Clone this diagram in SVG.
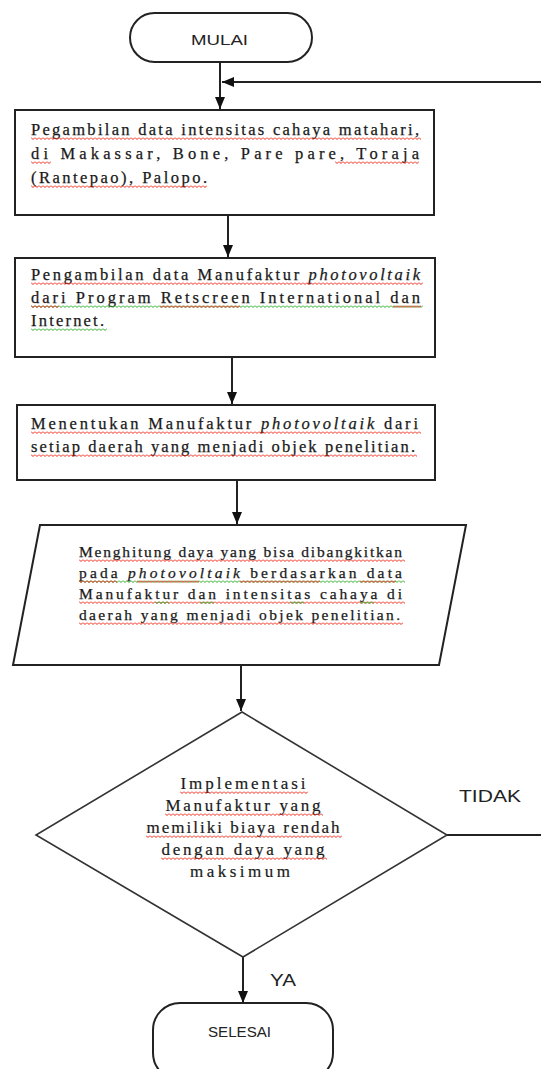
<svg xmlns="http://www.w3.org/2000/svg" width="541" height="1069" viewBox="0 0 541 1069">
<defs>
<style>
.shape{fill:#fff;stroke:#222;stroke-width:2}
.dia{fill:#fff;stroke:#333;stroke-width:1.6}
.conn{fill:none;stroke:#222;stroke-width:2}
.t{font-family:"Liberation Serif","Times New Roman",serif;font-size:16.5px;fill:#1a1a1a;stroke:#1a1a1a;stroke-width:0.25}
.tp{font-family:"Liberation Serif","Times New Roman",serif;font-size:15.5px;fill:#1a1a1a;stroke:#1a1a1a;stroke-width:0.25}
.td{font-family:"Liberation Serif","Times New Roman",serif;font-size:17px;fill:#1a1a1a;stroke:#1a1a1a;stroke-width:0.2;text-anchor:middle}
.s{font-family:"Liberation Sans",Arial,sans-serif;fill:#222}
.wr{fill:url(#wr)}
.wg{fill:url(#wg)}
</style>
<pattern id="wr" patternUnits="userSpaceOnUse" width="4" height="3">
<path d="M0,0.5 L2,2.5 L4,0.5" fill="none" stroke="#e21" stroke-width="1"/>
</pattern>
<pattern id="wg" patternUnits="userSpaceOnUse" width="4" height="3">
<path d="M0,0.5 L2,2.5 L4,0.5" fill="none" stroke="#2a2" stroke-width="1"/>
</pattern>
<marker id="ah" viewBox="0 0 12 10" refX="12" refY="5" markerWidth="12" markerHeight="10" markerUnits="userSpaceOnUse" orient="auto">
<path d="M0,0 L12,5 L0,10 z" fill="#111"/>
</marker>
</defs>

<g id="connectors">
<line class="conn" x1="220" y1="62" x2="220" y2="109" marker-end="url(#ah)"/>
<line class="conn" x1="541" y1="82" x2="222" y2="82" marker-end="url(#ah)"/>
<line class="conn" x1="228" y1="215" x2="228" y2="257" marker-end="url(#ah)"/>
<line class="conn" x1="232" y1="357" x2="232" y2="404" marker-end="url(#ah)"/>
<line class="conn" x1="237" y1="480" x2="237" y2="524" marker-end="url(#ah)"/>
<line class="conn" x1="241" y1="665" x2="241" y2="711" marker-end="url(#ah)"/>
<line class="conn" x1="243" y1="957" x2="243" y2="1003" marker-end="url(#ah)"/>
<line class="conn" x1="447" y1="835" x2="541" y2="835"/>
<text class="s" x="459" y="802" font-size="17" textLength="62" lengthAdjust="spacingAndGlyphs">TIDAK</text>
<text class="s" x="270" y="986" font-size="17" textLength="26" lengthAdjust="spacingAndGlyphs">YA</text>
</g>

<g id="mulai">
<rect class="shape" x="130" y="13" width="182" height="49" rx="24.5"/>
<text class="s" x="191" y="45" font-size="15" textLength="57" lengthAdjust="spacingAndGlyphs">MULAI</text>
</g>

<g id="box1">
<rect class="shape" x="15" y="110" width="419" height="105"/>
<text class="t" x="31" y="135" textLength="388" lengthAdjust="spacing">Pegambilan data intensitas cahaya matahari,</text>
<text class="t" x="31" y="159" textLength="388" lengthAdjust="spacing">di Makassar, Bone, Pare pare, Toraja</text>
<text class="t" x="31" y="183" textLength="176" lengthAdjust="spacing">(Rantepao), Palopo.</text>
<rect class="wr" transform="translate(31,137)" width="390" height="3"/>
<rect class="wr" transform="translate(31,161)" width="20" height="3"/>
<rect class="wr" transform="translate(335,161)" width="84" height="3"/>
<rect class="wr" transform="translate(31,185)" width="176" height="3"/>
</g>

<g id="box2">
<rect class="shape" x="15" y="258" width="420" height="99"/>
<text class="t" x="31" y="280" textLength="389" lengthAdjust="spacing">Pengambilan data Manufaktur <tspan font-style="italic">photovoltaik</tspan></text>
<text class="t" x="31" y="303" textLength="389" lengthAdjust="spacing">dari Program Retscreen International dan</text>
<text class="t" x="31" y="326" textLength="73" lengthAdjust="spacing">Internet.</text>
<rect class="wr" transform="translate(31,282)" width="392" height="3"/>
<rect class="wg" transform="translate(31,305)" width="392" height="3"/>
<rect class="wr" transform="translate(31,305)" width="28" height="3"/>
<rect class="wr" transform="translate(160,305)" width="80" height="3"/>
<rect class="wr" transform="translate(393,305)" width="28" height="3"/>
<rect class="wg" transform="translate(31,328)" width="76" height="3"/>
</g>

<g id="box3">
<rect class="shape" x="17" y="405" width="418" height="75"/>
<text class="t" x="31" y="429" textLength="387" lengthAdjust="spacing">Menentukan Manufaktur <tspan font-style="italic">photovoltaik</tspan> dari</text>
<text class="t" x="31" y="452" textLength="384" lengthAdjust="spacing">setiap daerah yang menjadi objek penelitian.</text>
<rect class="wr" transform="translate(31,431)" width="390" height="3"/>
<rect class="wr" transform="translate(31,454)" width="386" height="3"/>
</g>

<g id="proses">
<polygon class="shape" points="40,525 466,525 439,665 13,665"/>
<text class="tp" x="79" y="557" textLength="323" lengthAdjust="spacing">Menghitung daya yang bisa dibangkitkan</text>
<text class="tp" x="79" y="578" textLength="323" lengthAdjust="spacing">pada <tspan font-style="italic">photovoltaik</tspan> berdasarkan data</text>
<text class="tp" x="79" y="599" textLength="323" lengthAdjust="spacing">Manufaktur dan intensitas cahaya di</text>
<text class="tp" x="79" y="620" textLength="321" lengthAdjust="spacing">daerah yang menjadi objek penelitian.</text>
<rect class="wr" transform="translate(79,559)" width="326" height="3"/>
<rect class="wg" transform="translate(79,580)" width="326" height="3"/>
<rect class="wr" transform="translate(79,580)" width="38" height="3"/>
<rect class="wr" transform="translate(137,580)" width="62" height="3"/>
<rect class="wr" transform="translate(240,580)" width="80" height="3"/>
<rect class="wr" transform="translate(360,580)" width="36" height="3"/>
<rect class="wr" transform="translate(79,601)" width="326" height="3"/>
<rect class="wg" transform="translate(155,601)" width="14" height="3"/>
<rect class="wg" transform="translate(200,601)" width="14" height="3"/>
<rect class="wg" transform="translate(290,601)" width="14" height="3"/>
<rect class="wg" transform="translate(360,601)" width="14" height="3"/>
<rect class="wr" transform="translate(79,622)" width="324" height="3"/>
</g>

<g id="keputusan">
<polygon class="dia" points="242,712 447,835 243,957 36,835"/>
<text class="td" x="243" y="789" textLength="125" lengthAdjust="spacing">Implementasi</text>
<text class="td" x="243" y="811" textLength="155" lengthAdjust="spacing">Manufaktur yang</text>
<text class="td" x="243" y="833" textLength="193" lengthAdjust="spacing">memiliki biaya rendah</text>
<text class="td" x="243" y="855" textLength="163" lengthAdjust="spacing">dengan daya yang</text>
<text class="td" x="240" y="877" textLength="100" lengthAdjust="spacing" fill="#334">maksimum</text>
<rect class="wr" transform="translate(180,791)" width="128" height="3"/>
<rect class="wr" transform="translate(165,813)" width="158" height="3"/>
<rect class="wr" transform="translate(146,835)" width="196" height="3"/>
<rect class="wr" transform="translate(161,857)" width="166" height="3"/>
</g>

<g id="selesai">
<rect class="shape" x="153" y="1003" width="180" height="77" rx="27"/>
<text class="s" x="208" y="1037" font-size="14" textLength="63" lengthAdjust="spacingAndGlyphs">SELESAI</text>
</g>
</svg>
